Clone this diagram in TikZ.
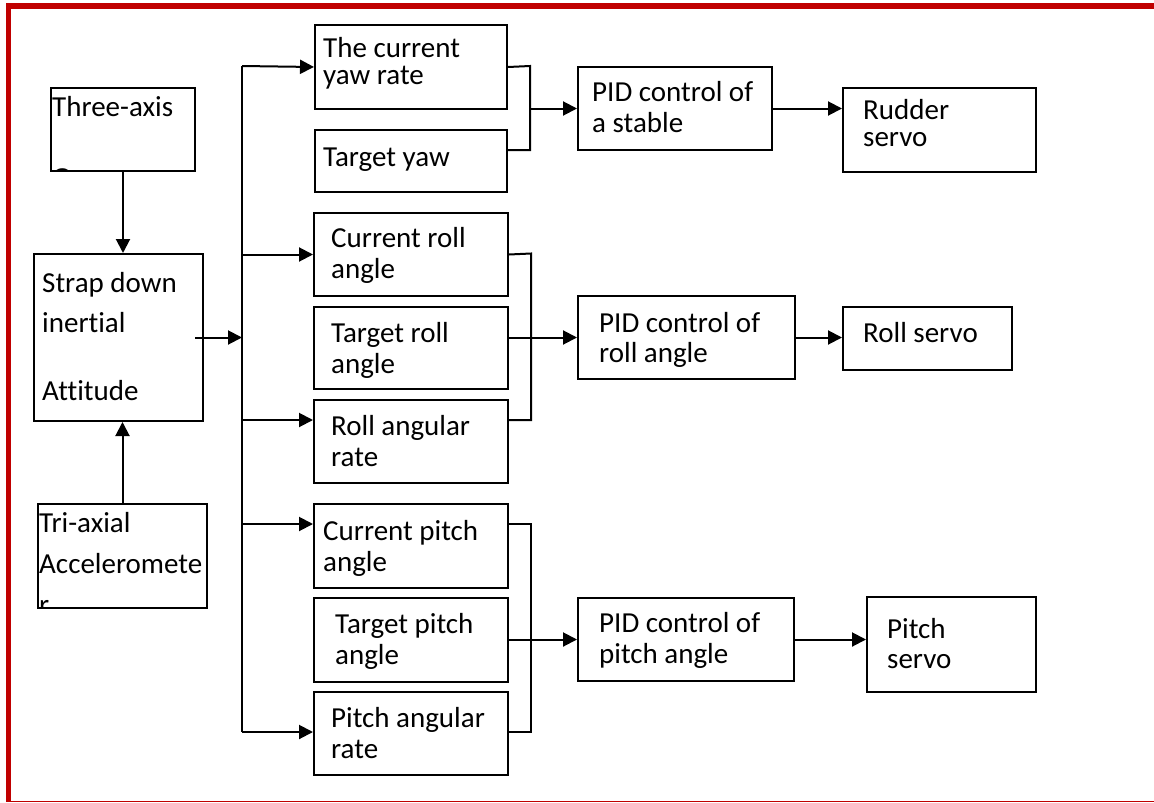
\documentclass[tikz,border=0pt]{standalone}
\usepackage{fontspec}
\setmainfont{Carlito}[Ligatures=NoCommon]
\usetikzlibrary{arrows.meta}

\definecolor{frame}{HTML}{C00000}
\tikzset{
    box/.style={draw, line width=2pt, inner sep=0pt, anchor=north west},
    txt/.style={anchor=base west, align=left, inner sep=0pt, font=\fontsize{29}{31}\selectfont},
    wire/.style={line width=2pt},
    arr/.style={wire, -{Triangle[length=14pt,width=14pt]}},
}

\begin{document}
\begin{tikzpicture}[x=1pt, y=-1pt]
    \useasboundingbox (0,0) rectangle (1154,803);
    % Frame
    \fill[frame] (6,3) rectangle (1154,9);
    \fill[frame] (6,3) rectangle (11,802);
    \draw[frame, line width=1.2pt] (6,801.5) -- (1154,801.5);
    % Sensors (text nodes sit on their last baseline)
    \node[box, minimum width=144pt, minimum height=83pt] (gyro) at (50,87) {};
    \begin{scope}
        \clip (50,87) rectangle (194,170);
        \node[txt] (gyroT) at (52,187.5) {Three-axis\\[40.5pt]Gyroscope};
    \end{scope}
    \node[box, minimum width=169pt, minimum height=167pt] (strap) at (33,253) {};
    \node[txt] (strapT) at (42,400) {Strap down\\[9pt]inertial\\[37pt]Attitude};
    \node[box, minimum width=169pt, minimum height=104pt] (accel) at (37,503) {};
    \begin{scope}
        \clip (37,503) rectangle (206,607);
        \node[txt] (accelT) at (39,614) {Tri-axial\\[10pt]Acceleromete\\[10pt]r};
    \end{scope}
    \draw[arr] (gyro.south) -- (gyro.south |- strap.north);
    \draw[arr] (accel.north) -- (accel.north |- strap.south);
    % Yaw
    \node[box, minimum width=192pt, minimum height=84pt] (yawrate) at (314,24) {};
    \node[txt] (yawrateT) at (323,84) {The current\\[-4pt]yaw rate};
    \node[box, minimum width=192pt, minimum height=62pt] (tyaw) at (314,129) {};
    \node[txt] (tyawT) at (323,166) {Target yaw};
    % Roll
    \node[box, minimum width=194pt, minimum height=83pt] (croll) at (313,212) {};
    \node[txt] (crollT) at (331,278) {Current roll\\angle};
    \node[box, minimum width=194pt, minimum height=82pt] (troll) at (313,306) {};
    \node[txt] (trollT) at (331,373) {Target roll\\angle};
    \node[box, minimum width=194pt, minimum height=83pt] (rrate) at (313,399) {};
    \node[txt] (rrateT) at (331,466) {Roll angular\\rate};
    % Pitch
    \node[box, minimum width=194pt, minimum height=84pt] (cpitch) at (313,503) {};
    \node[txt] (cpitchT) at (323,571) {Current pitch\\angle};
    \node[box, minimum width=194pt, minimum height=84pt] (tpitch) at (313,597) {};
    \node[txt] (tpitchT) at (335,664) {Target pitch\\angle};
    \node[box, minimum width=194pt, minimum height=83pt] (prate) at (313,691) {};
    \node[txt] (prateT) at (331,758) {Pitch angular\\rate};
    % Bus
    \coordinate (busT) at (242,66);
    \coordinate (busB) at (242,732);
    \coordinate (b3) at (242,420);
    \coordinate (b4) at (242,524);
    \draw[wire] (busT) -- (busB);
    \draw[arr] ([xshift=-9pt]strap.east) -- (strap.east -| busT);
    \draw[arr] (busT) -- (yawrate.west);
    \draw[arr] (busT |- croll.west) -- (croll.west);
    \draw[arr] (b3) -- (b3 -| rrate.west);
    \draw[arr] (b4) -- (b4 -| cpitch.west);
    \draw[arr] (busB) -- (busB -| prate.west);
    % PID blocks
    \node[box, minimum width=194pt, minimum height=83pt] (pidyaw) at (577,66) {};
    \node[txt] (pidyawT) at (592,132) {PID control of\\a stable};
    \node[box, minimum width=217pt, minimum height=83pt] (pidroll) at (577,295) {};
    \node[txt] (pidrollT) at (599,362) {PID control of\\[-1pt]roll angle};
    \node[box, minimum width=216pt, minimum height=83pt] (pidpitch) at (577,597) {};
    \node[txt] (pidpitchT) at (599,663) {PID control of\\pitch angle};
    % Brackets
    \coordinate (yawhi) at (530,66);
    \coordinate (yawlo) at (530,150);
    \draw[wire] (yawrate.east) -- (yawhi) -- (yawlo) -- (yawlo -| tyaw.east);
    \draw[arr] (yawhi |- pidyaw.west) -- (pidyaw.west);
    \coordinate (rollhi) at (531,253.5);
    \coordinate (rolllo) at (531,420);
    \draw[wire] (croll.east) -- (rollhi) -- (rolllo) -- (rolllo -| rrate.east);
    \draw[arr] (troll.east |- pidroll.west) -- (pidroll.west);
    \coordinate (pitchhi) at (531,524);
    \coordinate (pitchlo) at (531,732);
    \draw[wire] (pitchhi -| cpitch.east) -- (pitchhi) -- (pitchlo) -- (pitchlo -| prate.east);
    \draw[arr] (tpitch.east |- pidpitch.west) -- (pidpitch.west);
    % Servos
    \node[box, minimum width=193pt, minimum height=84pt] (rudder) at (842,87) {};
    \node[txt] (rudderT) at (863,146) {Rudder\\[-4pt]servo};
    \node[box, minimum width=169pt, minimum height=63pt] (rservo) at (842,306) {};
    \node[txt] (rservoT) at (863,342) {Roll servo};
    \node[box, minimum width=169pt, minimum height=95pt] (pservo) at (866,596) {};
    \node[txt] (pservoT) at (887,668) {Pitch\\[-1pt]servo};
    \draw[arr] (pidyaw.east) -- (pidyaw.east -| rudder.west);
    \draw[arr] (pidroll.east) -- (pidroll.east -| rservo.west);
    \draw[arr] (pidpitch.east) -- (pidpitch.east -| pservo.west);
\end{tikzpicture}
\end{document}
